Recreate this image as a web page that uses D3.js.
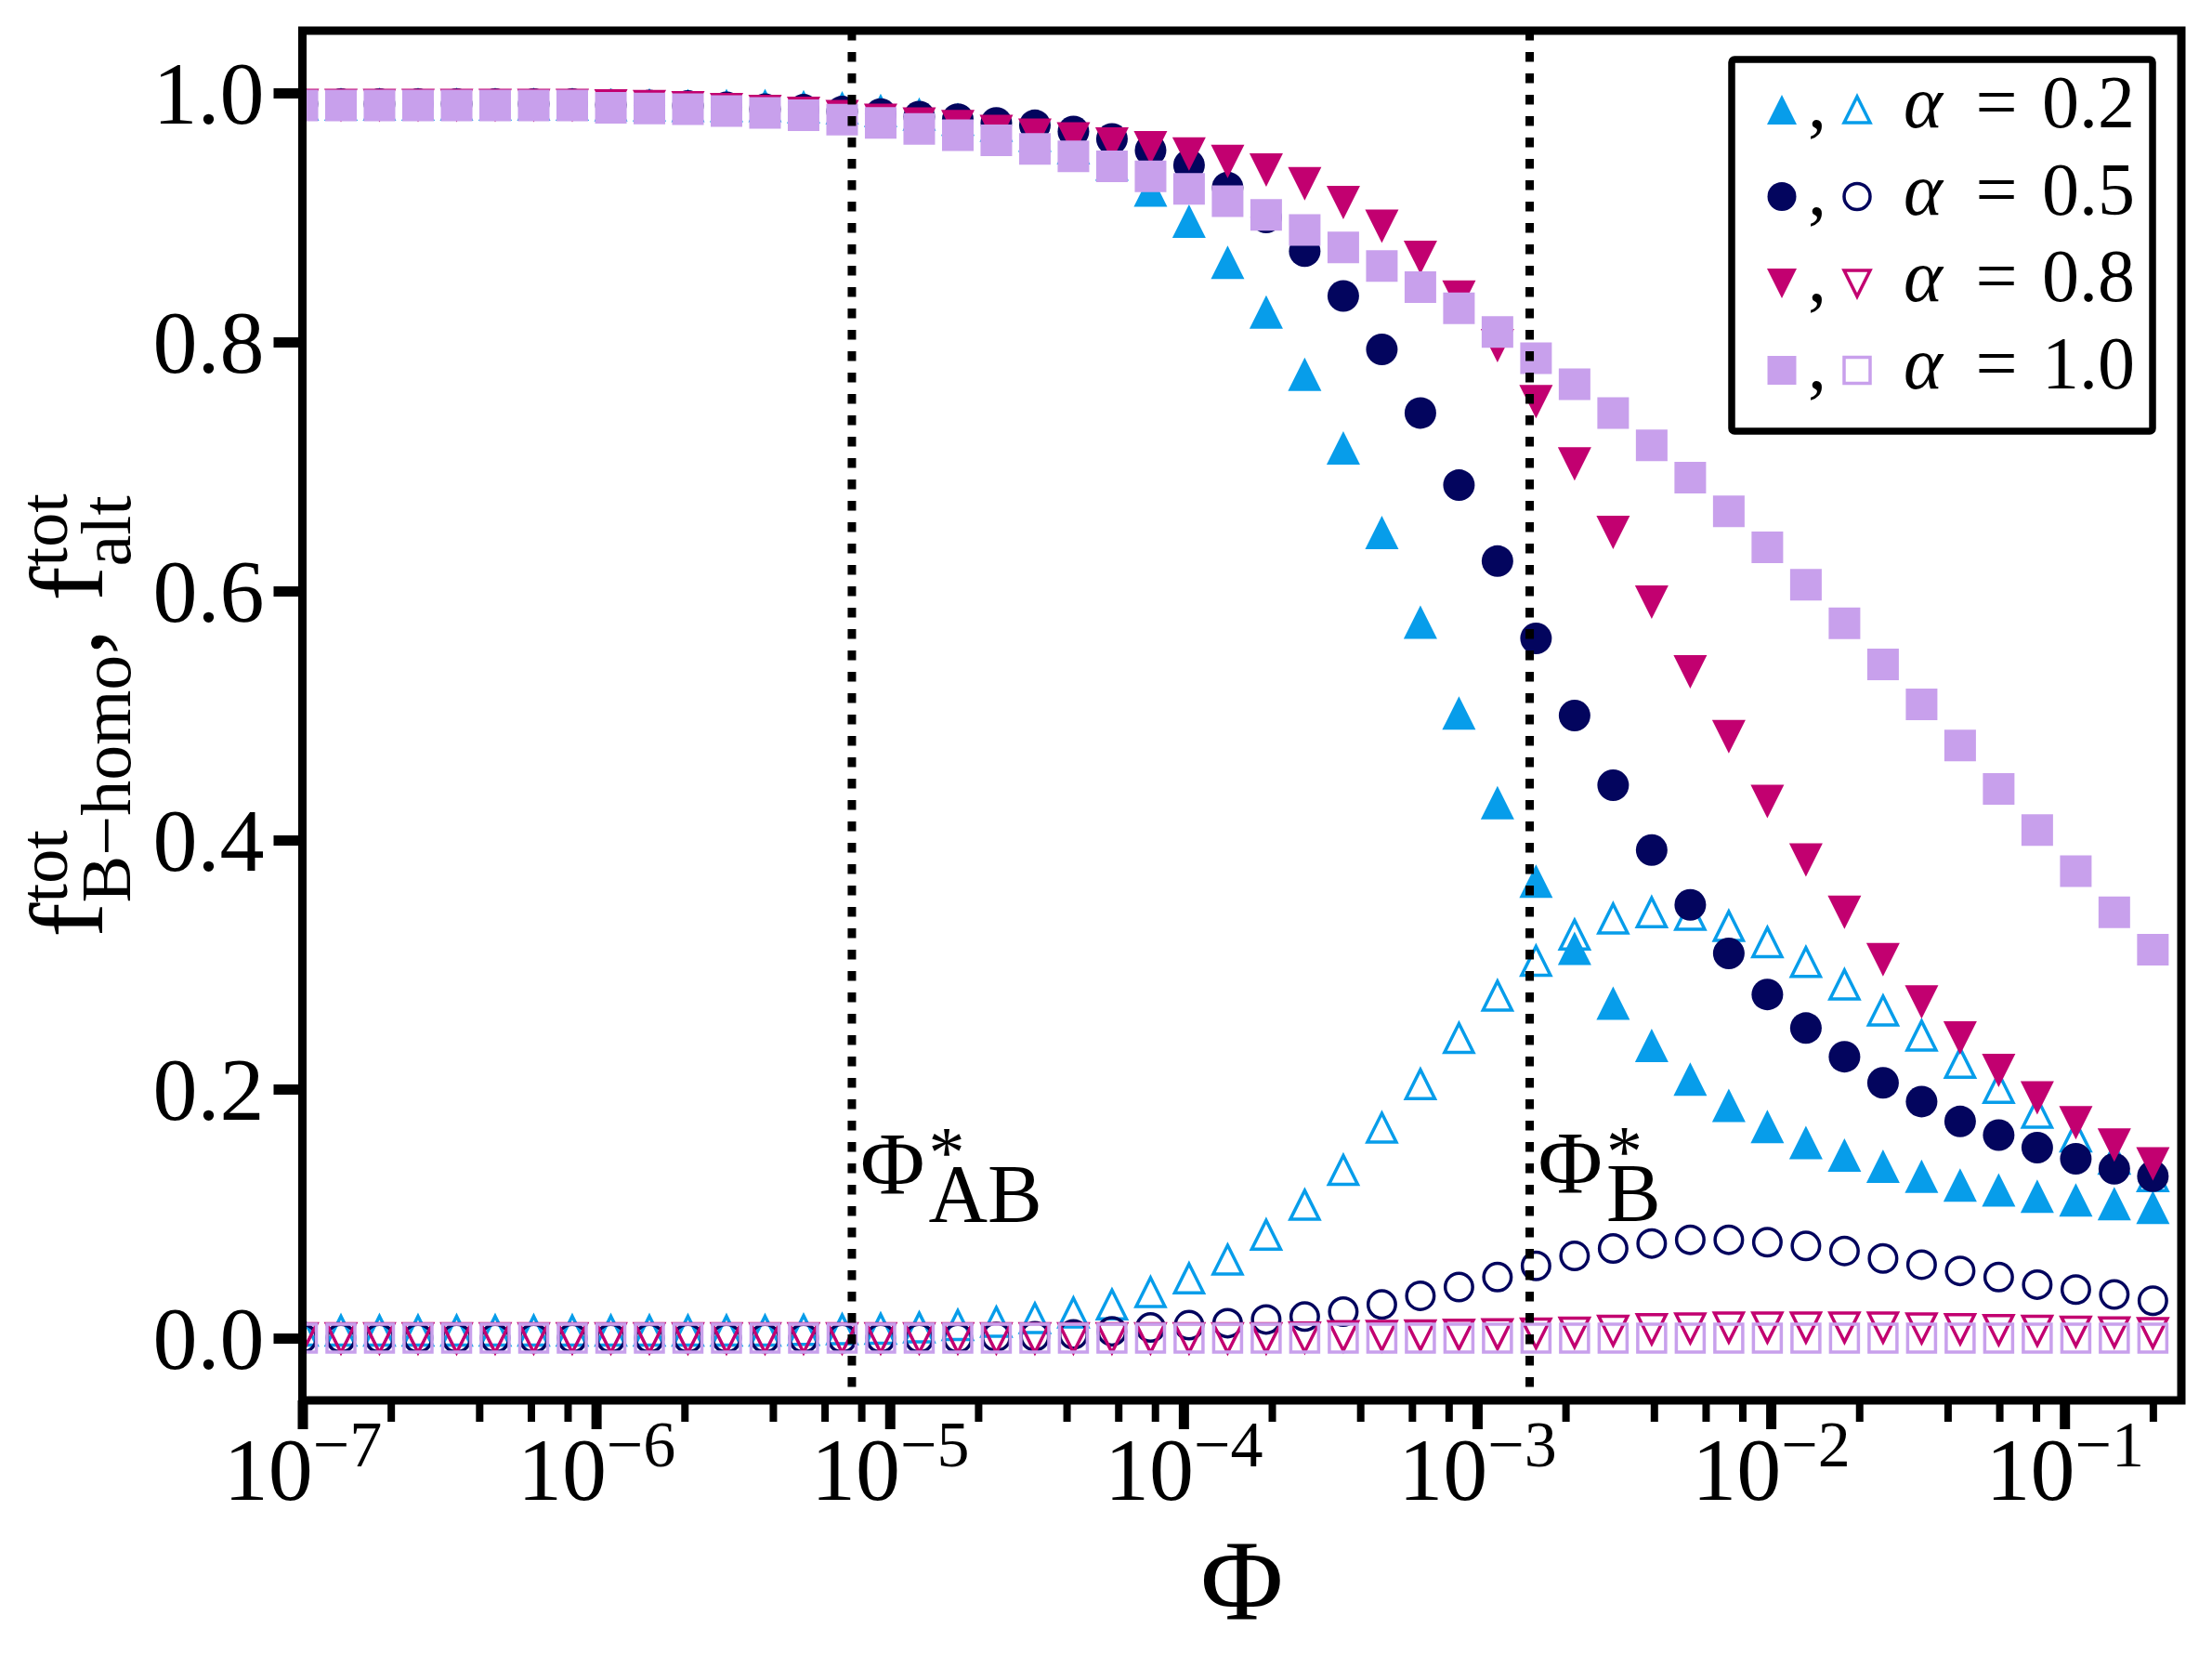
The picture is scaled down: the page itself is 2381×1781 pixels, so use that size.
<!DOCTYPE html>
<html>
<head>
<meta charset="utf-8">
<script src="https://cdn.jsdelivr.net/npm/d3@7"></script>
<style>
  html, body { margin: 0; padding: 0; background: #fff; }
  svg { display: block; }
  text { font-family: "Liberation Serif", "DejaVu Serif", serif; fill: #000; }
</style>
</head>
<body>
<svg id="chart"></svg>
<script>
// sampling grid of Phi (log spaced, 49 points)
const phi = [
  1.000e-7, 1.353e-7, 1.830e-7, 2.476e-7, 3.351e-7, 4.533e-7, 6.133e-7, 8.297e-7,
  1.123e-6, 1.519e-6, 2.055e-6, 2.780e-6, 3.761e-6, 5.088e-6, 6.884e-6, 9.313e-6,
  1.260e-5, 1.705e-5, 2.306e-5, 3.120e-5, 4.221e-5, 5.710e-5, 7.727e-5,
  1.045e-4, 1.414e-4, 1.913e-4, 2.588e-4, 3.502e-4, 4.738e-4, 6.410e-4, 8.672e-4,
  1.173e-3, 1.587e-3, 2.147e-3, 2.905e-3, 3.930e-3, 5.318e-3, 7.194e-3, 9.734e-3,
  1.317e-2, 1.782e-2, 2.411e-2, 3.262e-2, 4.413e-2, 5.970e-2, 8.077e-2,
  1.093e-1, 1.478e-1, 2.000e-1
]

const alphas = ["0.2", "0.5", "0.8", "1.0"]

// f_B-homo^tot (filled markers)
const homo02 = [0.991,0.991,0.991,0.991,0.991,0.991,0.991,0.991,0.9905,0.9905,0.990,0.990,0.990,0.989,0.988,0.986,
  0.983,0.979,0.974,0.966,0.956,0.943,0.922,0.897,0.864,0.824,0.774,0.715,0.647,0.575,0.502,0.430,
  0.367,0.313,0.269,0.235,0.208,0.187,0.170,0.157,0.147,0.138,0.130,0.123,0.119,0.114,0.111,0.108,0.105]
const homo05 = [0.991,0.991,0.991,0.991,0.991,0.991,0.991,0.991,0.9905,0.990,0.9895,0.9885,0.987,0.9865,0.985,0.983,
  0.981,0.979,0.976,0.974,0.969,0.963,0.954,0.942,0.924,0.900,0.873,0.837,0.794,0.743,0.685,0.624,
  0.562,0.500,0.444,0.392,0.348,0.309,0.276,0.249,0.226,0.205,0.190,0.174,0.163,0.153,0.144,0.136,0.130]
const homo08 = [0.990,0.990,0.990,0.990,0.990,0.990,0.990,0.990,0.9895,0.989,0.988,0.9865,0.985,0.9835,0.981,0.978,
  0.975,0.973,0.969,0.966,0.963,0.959,0.956,0.951,0.945,0.938,0.927,0.912,0.893,0.868,0.836,0.797,
  0.752,0.702,0.647,0.591,0.535,0.483,0.431,0.384,0.342,0.304,0.270,0.241,0.215,0.193,0.173,0.155,0.140]
const homo10 = [0.990,0.990,0.990,0.990,0.990,0.990,0.990,0.990,0.988,0.9875,0.987,0.9855,0.984,0.982,0.9785,0.976,
  0.971,0.966,0.962,0.955,0.949,0.941,0.933,0.923,0.913,0.902,0.890,0.876,0.861,0.844,0.827,0.808,
  0.787,0.766,0.743,0.717,0.691,0.664,0.635,0.605,0.574,0.541,0.509,0.476,0.441,0.408,0.375,0.342,0.312]

// f_alt^tot (open markers)
const alt02 = [0.006,0.006,0.006,0.006,0.006,0.006,0.006,0.006,0.006,0.006,0.006,0.006,0.006,0.0065,0.007,0.0075,
  0.0085,0.0105,0.013,0.016,0.0205,0.027,0.037,0.048,0.063,0.083,0.107,0.135,0.169,0.204,0.241,0.275,
  0.303,0.324,0.337,0.342,0.340,0.331,0.318,0.302,0.284,0.263,0.243,0.221,0.201,0.181,0.162,0.144,0.130]
const alt05 = [0,0,0,0,0,0,0,0,0,0,0,0,0,0,0,0,
  0,0,0.001,0.0015,0.003,0.0055,0.0085,0.0104,0.012,0.015,0.0173,0.0213,0.027,0.034,0.041,0.049,
  0.058,0.066,0.072,0.076,0.079,0.079,0.077,0.074,0.070,0.064,0.059,0.054,0.049,0.043,0.039,0.035,0.030]
const alt08 = [0,0,0,0,0,0,0,0,0,0,0,0,0,0,0,0,
  0,0,0,0,0,0,0,0,0,0,0.0006,0.0016,0.0018,0.0022,0.0028,0.0031,
  0.0038,0.0045,0.006,0.0072,0.0079,0.0085,0.0085,0.0085,0.0085,0.0085,0.0079,0.0072,0.0066,0.006,0.0053,0.0047,0.0041]
const alt10 = [0,0,0,0,0,0,0,0,0,0,0,0,0,0,0,0,
  0,0,0,0,0,0,0,0,0,0,0,0,0,0,0,0,
  0,0,0,0,0,0,0,0,0,0,0,0,0,0,0,0,0]

const xMajor = [1e-7, 1e-6, 1e-5, 1e-4, 1e-3, 1e-2, 1e-1]
const xMajorExp = ["−7", "−6", "−5", "−4", "−3", "−2", "−1"]
const xMinor = [2e-7,4e-7,6e-7,8e-7, 2e-6,4e-6,6e-6,8e-6, 2e-5,4e-5,6e-5,8e-5,
  2e-4,4e-4,6e-4,8e-4, 2e-3,4e-3,6e-3,8e-3, 2e-2,4e-2,6e-2,8e-2, 2e-1]
const yTicks = [0, 0.2, 0.4, 0.6, 0.8, 1.0]

const phiStarAB = 7.43e-6
const phiStarB = 1.51e-3

const colors = ["#079DEA", "#03055E", "#C20070", "#C8A0EC"]
const shapes = ["up", "circle", "down", "square"]
const homo = [homo02, homo05, homo08, homo10]
const alt = [alt02, alt05, alt08, alt10]

const W = 2381, H = 1781
const plot = {left: 325.5, right: 2348, top: 33, bottom: 1507}

const svg = d3.select("#chart").attr("width", W).attr("height", H)
svg.append("rect").attr("width", W).attr("height", H).attr("fill", "#fff")

const x = d3.scaleLog().domain([1e-7, 0.25]).range([plot.left, plot.right])
const y = d3.scaleLinear().domain([-0.05, 1.05]).range([plot.bottom, plot.top])

function markerPath(shape, s) {
  const h = s / 2
  if (shape === "up") return `M0,${-h}L${h},${h}L${-h},${h}Z`
  if (shape === "down") return `M0,${h}L${h},${-h}L${-h},${-h}Z`
  if (shape === "square") return `M${-h},${-h}H${h}V${h}H${-h}Z`
  return d3.symbol(d3.symbolCircle, Math.PI * h * h)()
}

svg.append("defs").append("clipPath").attr("id", "plotclip")
  .append("rect")
  .attr("x", plot.left).attr("y", plot.top)
  .attr("width", plot.right - plot.left).attr("height", plot.bottom - plot.top)

const marks = svg.append("g").attr("clip-path", "url(#plotclip)")

// open markers first, filled on top
alt.forEach((vals, s) => {
  const size = shapes[s] === "circle" ? 29.5 : (shapes[s] === "square" ? 30 : 31)
  marks.append("g").selectAll("path").data(vals).join("path")
    .attr("transform", (d, i) => `translate(${x(phi[i])},${y(d)})`)
    .attr("d", markerPath(shapes[s], size))
    .attr("fill", "none")
    .attr("stroke", colors[s])
    .attr("stroke-width", 3.5)
})

homo.forEach((vals, s) => {
  const size = (shapes[s] === "up" || shapes[s] === "down") ? 36 : 34
  marks.append("g").selectAll("path").data(vals).join("path")
    .attr("transform", (d, i) => `translate(${x(phi[i])},${y(d)})`)
    .attr("d", markerPath(shapes[s], size))
    .attr("fill", colors[s])
})

// dotted reference lines
;[phiStarAB, phiStarB].forEach(v => {
  svg.append("line")
    .attr("x1", x(v)).attr("x2", x(v))
    .attr("y1", plot.top).attr("y2", plot.bottom)
    .attr("stroke", "#000").attr("stroke-width", 9)
    .attr("stroke-dasharray", "10.5,12.5")
})

// axes
const gy = svg.append("g").attr("transform", `translate(${plot.left},0)`)
  .call(d3.axisLeft(y).tickValues(yTicks).tickSize(31).tickPadding(10).tickFormat(d3.format(".1f")))
gy.select(".domain").remove()
gy.selectAll(".tick line").attr("stroke", "#000").attr("stroke-width", 11)
gy.selectAll(".tick text").attr("font-size", 96).attr("dy", "0.34em").attr("fill", "#000")

const gxMinor = svg.append("g").attr("transform", `translate(0,${plot.bottom})`)
  .call(d3.axisBottom(x).tickValues(xMinor).tickSize(23).tickFormat(() => ""))
gxMinor.select(".domain").remove()
gxMinor.selectAll(".tick text").remove()
gxMinor.selectAll(".tick line").attr("stroke", "#000").attr("stroke-width", 8)

const gx = svg.append("g").attr("transform", `translate(0,${plot.bottom})`)
  .call(d3.axisBottom(x).tickValues(xMajor).tickSize(31).tickFormat(() => ""))
gx.select(".domain").remove()
gx.selectAll(".tick text").remove()
gx.selectAll(".tick line").attr("stroke", "#000").attr("stroke-width", 11)
gx.selectAll(".tick").append("text")
  .attr("y", 107).attr("text-anchor", "middle")
  .each(function(d, i) {
    const t = d3.select(this)
    t.append("tspan").attr("font-size", 96).text("10")
    t.append("tspan").attr("font-size", 70).attr("dy", -36).text(xMajorExp[i])
  })

// frame
svg.append("rect")
  .attr("x", plot.left).attr("y", plot.top)
  .attr("width", plot.right - plot.left).attr("height", plot.bottom - plot.top)
  .attr("fill", "none").attr("stroke", "#000").attr("stroke-width", 9)

// math-like label in one text element: pieces placed one after another,
// a "stack" puts a superscript and a subscript at the same x
function mathText(parent, pieces) {
  const text = parent.append("text")
  let cx = 0
  pieces.forEach(p => {
    if (p.gap) { cx += p.gap; return }
    const items = p.stack || [p]
    let w = 0
    items.forEach(it => {
      const ts = text.append("tspan")
        .attr("x", cx).attr("y", it.dy || 0)
        .attr("font-size", it.size)
        .text(it.t)
      w = Math.max(w, ts.node().getComputedTextLength())
    })
    cx += w
  })
  return cx
}

// y label
const gyl = svg.append("g")
const ylen = mathText(gyl, [
  {t: "f", size: 112},
  {stack: [{t: "tot", size: 74, dy: -38}, {t: "B−homo", size: 76, dy: 30}]},
  {t: ",", size: 112},
  {gap: 30},
  {t: "f", size: 112},
  {stack: [{t: "tot", size: 74, dy: -38}, {t: "alt", size: 76, dy: 30}]}
])
gyl.attr("transform", `translate(110,${(plot.top + plot.bottom) / 2 + ylen / 2}) rotate(-90)`)

// x label
svg.append("text")
  .attr("x", (plot.left + plot.right) / 2).attr("y", 1742)
  .attr("text-anchor", "middle").attr("font-size", 122)
  .text("Φ")

// annotations at the dotted lines
const gab = svg.append("g").attr("transform", `translate(${x(phiStarAB) + 9},1285)`)
mathText(gab, [
  {t: "Φ", size: 95}, {gap: 4},
  {stack: [{t: "*", size: 78, dy: -19}, {t: "AB", size: 88, dy: 29}]}
])
const gb = svg.append("g").attr("transform", `translate(${x(phiStarB) + 9},1284)`)
mathText(gb, [
  {t: "Φ", size: 95}, {gap: 4},
  {stack: [{t: "*", size: 78, dy: -19}, {t: "B", size: 88, dy: 29}]}
])

// legend
const leg = svg.append("g")
leg.append("rect")
  .attr("x", 1864).attr("y", 64).attr("width", 453).attr("height", 400).attr("rx", 3)
  .attr("fill", "#fff").attr("stroke", "#000").attr("stroke-width", 7.5)

alphas.forEach((a, i) => {
  const base = 137 + 93.5 * i
  const cy = base - 19
  const fsize = (shapes[i] === "up" || shapes[i] === "down") ? 32 : 31
  leg.append("path")
    .attr("transform", `translate(1918,${cy})`)
    .attr("d", markerPath(shapes[i], fsize))
    .attr("fill", colors[i])
  leg.append("text").attr("x", 1946).attr("y", base).attr("font-size", 80).text(",")
  leg.append("path")
    .attr("transform", `translate(1999,${cy})`)
    .attr("d", markerPath(shapes[i], 28))
    .attr("fill", "none").attr("stroke", colors[i]).attr("stroke-width", 3.5)
  leg.append("text").attr("x", 2049).attr("y", base).attr("font-size", 80)
    .attr("font-style", "italic").text("α")
  leg.append("text").attr("x", 2149).attr("y", base).attr("font-size", 80)
    .attr("text-anchor", "middle").text("=")
  leg.append("text").attr("x", 2198).attr("y", base).attr("font-size", 80).text(a)
})
</script>
</body>
</html>
